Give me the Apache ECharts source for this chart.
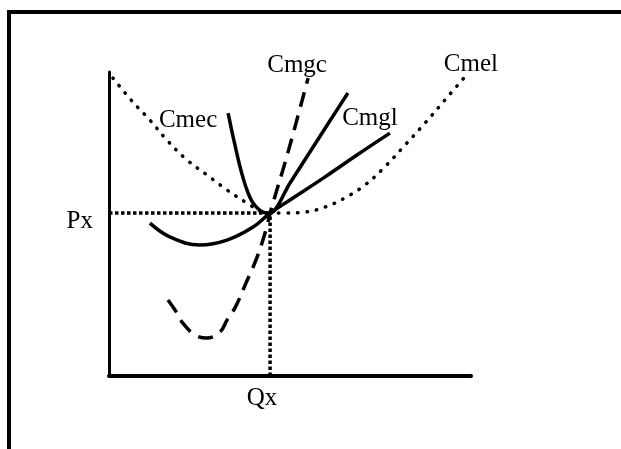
<!DOCTYPE html>
<html>
<head>
<meta charset="utf-8">
<script src="https://cdn.jsdelivr.net/npm/echarts@6/dist/echarts.min.js"></script>
<style>
html,body{margin:0;padding:0;background:#fff;}
#chart{width:621px;height:449px;}
</style>
</head>
<body>
<div id="chart"></div>
<script>
// ---- data (arbitrary quantity / price units) ----
const cmel = [[0.11,9.80],[0.66,9.01],[1.13,8.42],[1.60,7.76],[2.15,7.11],[2.71,6.61],[3.26,6.12],[3.81,5.69],[4.25,5.39],[4.45,5.36],[4.86,5.36],[5.41,5.39],[5.97,5.56],[6.52,5.86],[7.07,6.28],[7.62,6.88],[8.18,7.60],[8.73,8.32],[9.28,9.08],[9.83,9.84]];
const cmec = [[3.29,8.65],[3.43,7.86],[3.62,6.88],[3.81,6.12],[3.98,5.69],[4.25,5.39],[4.45,5.36],[5.00,6.35],[5.55,7.37],[6.10,8.39],[6.60,9.31]];
const cmgl = [[1.13,5.03],[1.69,4.57],[2.51,4.31],[3.26,4.47],[3.98,4.90],[4.45,5.36],[5.00,5.79],[5.97,6.55],[6.85,7.27],[7.76,7.99]];
const cmgc = [[1.63,2.50],[1.88,2.07],[2.04,1.74],[2.38,1.35],[2.71,1.25],[3.07,1.45],[3.26,1.84],[3.48,2.24],[3.76,2.99],[4.09,3.91],[4.36,4.90],[4.45,5.36],[4.94,7.34],[5.50,9.80]];
const qx = 4.45;   // equilibrium quantity
const px = 5.36;   // equilibrium price
const xTickLabels = ['Qx'];
const yTickLabels = ['Px'];
const curveNames = ['Cmel','Cmec','Cmgl','Cmgc'];

const FONT = '"Liberation Serif","Times New Roman",serif';
const chart = echarts.init(document.getElementById('chart'), null, {renderer:'canvas'});

function nameLabel(name, point, offset){
  return {
    symbol:'circle', symbolSize:1, silent:true,
    itemStyle:{color:'rgba(0,0,0,0)'},
    label:{show:true, position:'inside', offset:offset, formatter:name,
           color:'#000', fontFamily:FONT, fontSize:25},
    data:[{coord:point}]
  };
}

const option = {
  animation:false,
  backgroundColor:'#fff',
  grid:{left:109, top:72, width:362, height:304, containLabel:false},
  xAxis:{
    type:'value', min:0, max:10,
    axisLine:{show:true, onZero:false, lineStyle:{color:'#000', width:4}},
    axisTick:{show:false},
    splitLine:{show:false},
    axisLabel:{show:true, customValues:[qx], formatter:()=>xTickLabels[0],
      color:'#000', fontFamily:FONT, fontSize:25, margin:10, padding:[0,16,0,0]}
  },
  yAxis:{
    type:'value', min:0, max:10,
    axisLine:{show:true, onZero:false, lineStyle:{color:'#000', width:3}},
    axisTick:{show:false},
    splitLine:{show:false},
    axisLabel:{show:true, customValues:[px], formatter:()=>yTickLabels[0],
      color:'#000', fontFamily:FONT, fontSize:25, margin:16,
      verticalAlign:'top', lineHeight:17}
  },
  graphic:[
    {type:'line', shape:{x1:9,y1:12,x2:621,y2:12}, style:{stroke:'#000', lineWidth:4}},
    {type:'line', shape:{x1:9,y1:10,x2:9,y2:449}, style:{stroke:'#000', lineWidth:4}}
  ],
  series:[
    {name:'guideH', type:'line', data:[[0,px],[qx,px]], symbol:'none', silent:true,
     lineStyle:{color:'#000', width:3.5, type:[3.5,2.5], cap:'butt'}},
    {name:'guideV', type:'line', data:[[qx,0],[qx,px]], symbol:'none', silent:true,
     lineStyle:{color:'#000', width:3.5, type:[3.5,2.5], cap:'butt'}},
    {name:curveNames[0], type:'line', data:cmel, symbol:'none', smooth:0.4,
     lineStyle:{color:'#000', width:3.5, type:[0.5,9], cap:'round'},
     markPoint:nameLabel(curveNames[0], cmel[cmel.length-1], [6,-12])},
    {name:curveNames[1], type:'line', data:cmec, symbol:'none', smooth:0.3,
     lineStyle:{color:'#000', width:3.5},
     markPoint:nameLabel(curveNames[1], cmec[0], [-40,7])},
    {name:curveNames[2], type:'line', data:cmgl, symbol:'none', smooth:0.4,
     lineStyle:{color:'#000', width:3.5},
     markPoint:nameLabel(curveNames[2], cmgl[cmgl.length-1], [-20,-15])},
    {name:curveNames[3], type:'line', data:cmgc, symbol:'none', smooth:0.4,
     lineStyle:{color:'#000', width:3.5, type:[15,9], cap:'butt'},
     markPoint:nameLabel(curveNames[3], cmgc[cmgc.length-1], [-11,-13])}
  ]
};
chart.setOption(option);
</script>
</body>
</html>
